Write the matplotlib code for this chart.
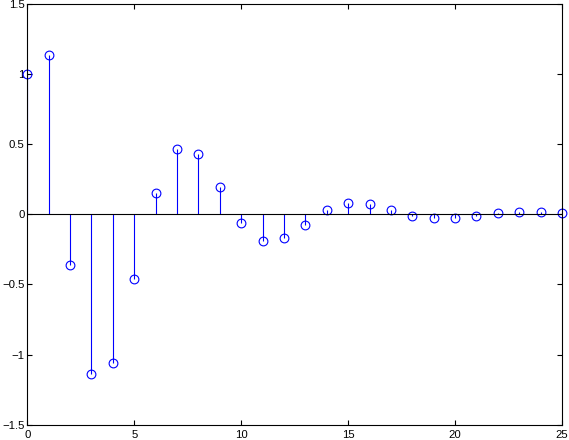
import numpy as np
import matplotlib
matplotlib.use("Agg")
import matplotlib.pyplot as plt

# sample index and response values
n = list(range(26))
h = [1.0, 1.136, -0.364, -1.136, -1.057, -0.464, 0.15, 0.464, 0.43, 0.193,
     -0.064, -0.193, -0.171, -0.079, 0.029, 0.079, 0.071, 0.029, -0.014,
     -0.029, -0.029, -0.014, 0.007, 0.014, 0.014, 0.007]

xticks = [0, 5, 10, 15, 20, 25]
yticks = [-1.5, -1, -0.5, 0, 0.5, 1, 1.5]

plt.rcParams['font.family'] = ['Liberation Sans', 'DejaVu Sans']

fig = plt.figure(figsize=(5.69, 4.40), dpi=100)
# axes box spans roughly x 27..562, y 3.7..424.7 in pixels
ax = fig.add_axes([27.3 / 569, 15.3 / 440, 534.7 / 569, 421.0 / 440])

markerline, stemlines, baseline = ax.stem(n, h, linefmt='b-', markerfmt='bo', basefmt='k-')
markerline.set_markerfacecolor('none')
markerline.set_markeredgecolor('#0000ff')
markerline.set_markersize(6.3)
markerline.set_markeredgewidth(0.8)
stemlines.set_color('#0000ff')
stemlines.set_linewidth(0.8)
baseline.set_color('black')
baseline.set_linewidth(0.8)
baseline.set_xdata([0, 25])
markerline.set_clip_on(False)

ax.set_xlim(0, 25)
ax.set_ylim(-1.5, 1.5)
ax.set_xticks(xticks)
ax.set_xticklabels([str(t) for t in xticks])
ax.set_yticks(yticks)
ax.set_yticklabels(['\u22121.5', '\u22121', '\u22120.5', '0', '0.5', '1', '1.5'])
ax.tick_params(direction='in', top=True, right=True, length=3.6, width=0.8,
               labelsize=8.2)
ax.tick_params(axis='x', pad=4)
ax.tick_params(axis='y', pad=2)
for s in ax.spines.values():
    s.set_linewidth(0.8)

fig.savefig("out.png", dpi=100)
